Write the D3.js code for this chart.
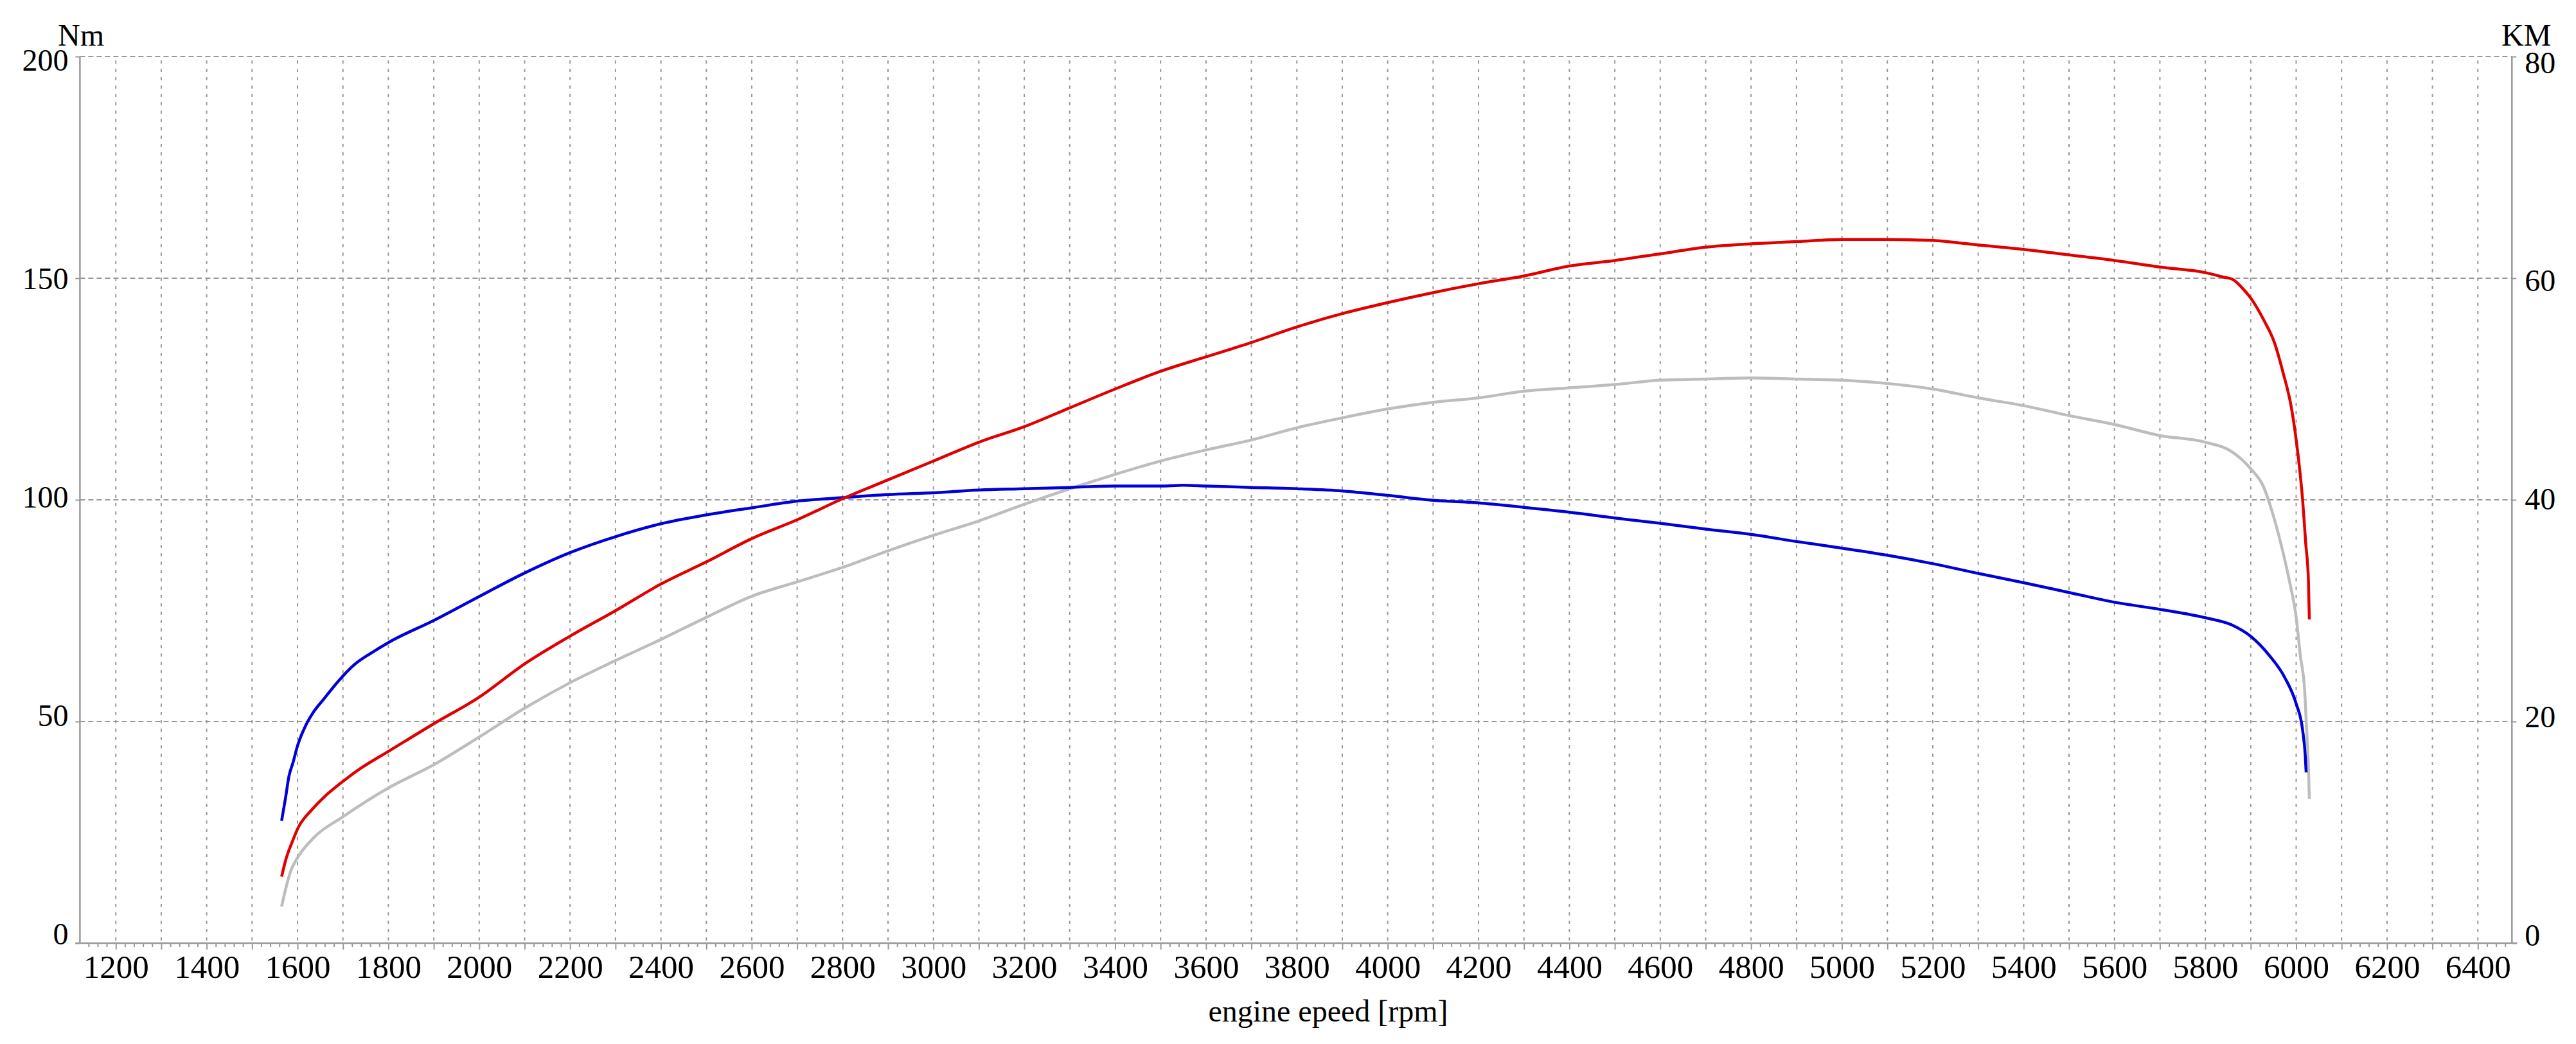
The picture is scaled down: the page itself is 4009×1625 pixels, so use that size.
<!DOCTYPE html>
<html>
<head>
<meta charset="utf-8">
<script src="https://cdn.jsdelivr.net/npm/d3@7"></script>
<style>
  body { margin: 0; background: #fff; }
  svg { display: block; font-family: 'Liberation Serif', 'Times New Roman', serif; }
</style>
</head>
<body>
<div id="chart"></div>
<script>
// blue curve, left axis (Nm)
const torqueRpm = [1565, 1574, 1581, 1590, 1600, 1618, 1633, 1659, 1689, 1726, 1763, 1800, 1900, 2000, 2100, 2200, 2300, 2400, 2500, 2600, 2700, 2800, 2900, 3000, 3100, 3200, 3300, 3400, 3500, 3550, 3600, 3700, 3800, 3900, 4000, 4100, 4200, 4300, 4400, 4500, 4600, 4700, 4800, 4900, 5000, 5100, 5200, 5300, 5400, 5500, 5600, 5700, 5800, 5860, 5900, 5940, 5975, 6000, 6014, 6020, 6022];
const torqueNm = [27.6, 33.0, 37.6, 40.7, 44.5, 49.1, 51.8, 55.2, 59.0, 62.9, 65.5, 67.8, 72.8, 78.2, 83.5, 88.1, 91.7, 94.6, 96.6, 98.2, 99.7, 100.5, 101.2, 101.6, 102.2, 102.5, 102.8, 103.1, 103.1, 103.3, 103.1, 102.8, 102.5, 102.0, 101.0, 99.9, 99.3, 98.3, 97.2, 95.9, 94.7, 93.4, 92.2, 90.6, 89.1, 87.5, 85.6, 83.4, 81.3, 79.1, 76.9, 75.3, 73.4, 71.7, 69.2, 65.0, 59.9, 54.0, 48.2, 42.3, 38.5];

// red curve, right axis (KM)
const powerRpm = [1565, 1574, 1589, 1600, 1633, 1659, 1700, 1740, 1800, 1900, 2000, 2100, 2200, 2300, 2400, 2500, 2600, 2700, 2800, 2900, 3000, 3100, 3200, 3300, 3400, 3500, 3600, 3700, 3800, 3900, 4000, 4100, 4200, 4300, 4400, 4500, 4600, 4700, 4800, 4900, 5000, 5100, 5200, 5300, 5400, 5500, 5600, 5700, 5800, 5840, 5860, 5877, 5900, 5929, 5952, 5971, 5990, 6004, 6014, 6021, 6027, 6029];
const powerKM = [6.0, 7.5, 9.2, 10.3, 12.1, 13.2, 14.6, 15.8, 17.3, 19.8, 22.2, 25.2, 27.7, 30.0, 32.4, 34.4, 36.5, 38.2, 40.1, 41.8, 43.5, 45.2, 46.6, 48.3, 50.0, 51.6, 52.9, 54.2, 55.6, 56.8, 57.8, 58.7, 59.5, 60.2, 61.1, 61.6, 62.2, 62.8, 63.1, 63.3, 63.5, 63.5, 63.4, 63.0, 62.6, 62.1, 61.6, 61.0, 60.5, 60.1, 59.9, 59.3, 58.2, 56.2, 54.2, 51.5, 48.2, 44.1, 40.1, 36.1, 32.7, 29.2];

// gray curve, right axis (KM)
const wheelRpm = [1565, 1574, 1585, 1600, 1633, 1700, 1800, 1900, 2000, 2100, 2200, 2300, 2400, 2500, 2600, 2700, 2800, 2900, 3000, 3100, 3200, 3300, 3400, 3500, 3600, 3700, 3800, 3900, 4000, 4100, 4200, 4300, 4400, 4500, 4600, 4700, 4800, 4900, 5000, 5100, 5200, 5300, 5400, 5500, 5600, 5700, 5800, 5860, 5900, 5929, 5948, 5966, 5985, 6000, 6009, 6019, 6023, 6027, 6029];
const wheelKM = [3.3, 4.9, 6.5, 7.7, 9.4, 11.4, 14.0, 16.1, 18.6, 21.2, 23.5, 25.5, 27.4, 29.4, 31.3, 32.6, 33.9, 35.4, 36.8, 38.1, 39.6, 41.0, 42.3, 43.5, 44.5, 45.4, 46.5, 47.4, 48.2, 48.8, 49.2, 49.8, 50.1, 50.4, 50.8, 50.9, 51.0, 50.9, 50.8, 50.5, 50.0, 49.2, 48.5, 47.6, 46.8, 45.8, 45.2, 44.3, 42.8, 41.1, 38.8, 36.1, 32.7, 29.4, 26.0, 22.6, 19.3, 15.9, 13.0];

const rpmTickLabels = [1200, 1400, 1600, 1800, 2000, 2200, 2400, 2600, 2800, 3000, 3200, 3400, 3600, 3800, 4000, 4200, 4400, 4600, 4800, 5000, 5200, 5400, 5600, 5800, 6000, 6200, 6400];
const nmTicks = [0, 50, 100, 150, 200];
const kmTicks = [0, 20, 40, 60, 80];

function drawChart() {
  const zip = (xs, ys) => xs.map((x, i) => [x, ys[i]]);
  const torque = zip(torqueRpm, torqueNm);
  const power = zip(powerRpm, powerKM);
  const wheel = zip(wheelRpm, wheelKM);

  let dimensions = {
    width: 4009,
    height: 1625,
    margin: { top: 88, right: 99.7, bottom: 157, left: 124.4 },
  };
  dimensions.boundedWidth =
    dimensions.width - dimensions.margin.left - dimensions.margin.right;
  dimensions.boundedHeight =
    dimensions.height - dimensions.margin.top - dimensions.margin.bottom;

  // scales
  const xScale = d3.scaleLinear().domain([1121, 6475]).range([0, dimensions.boundedWidth]);
  const yScale = d3.scaleLinear().domain([0, 200]).range([dimensions.boundedHeight, 0]);
  const y2Scale = d3.scaleLinear().domain([0, 80]).range([dimensions.boundedHeight, 0]);
  // the tick labels sit on a slightly tighter band than the grid
  const labelY = yScale.copy().range([dimensions.boundedHeight - 14, 6]);
  const label2Y = y2Scale.copy().range([dimensions.boundedHeight - 12, 10]);

  const wrapper = d3
    .select('#chart')
    .append('svg')
    .attr('width', dimensions.width)
    .attr('height', dimensions.height);

  wrapper.append('rect').attr('width', dimensions.width).attr('height', dimensions.height).attr('fill', '#fff');

  const bounds = wrapper
    .append('g')
    .attr('transform', `translate(${dimensions.margin.left},${dimensions.margin.top})`);

  const gridColor = '#999';

  // grid
  bounds
    .append('g')
    .selectAll('line')
    .data(d3.range(1200, 6401, 100))
    .join('line')
    .attr('x1', (d) => xScale(d))
    .attr('x2', (d) => xScale(d))
    .attr('y1', 6)
    .attr('y2', dimensions.boundedHeight)
    .attr('stroke', gridColor)
    .attr('stroke-width', 2)
    .attr('stroke-dasharray', '5,8');

  bounds
    .append('g')
    .selectAll('line')
    .data(nmTicks.filter((d) => d > 0))
    .join('line')
    .attr('x1', 0)
    .attr('x2', dimensions.boundedWidth)
    .attr('y1', (d) => yScale(d))
    .attr('y2', (d) => yScale(d))
    .attr('stroke', gridColor)
    .attr('stroke-width', 2)
    .attr('stroke-dasharray', '8,5');

  // curves
  const line = (yS) =>
    d3.line().x((d) => xScale(d[0])).y((d) => yS(d[1])).curve(d3.curveMonotoneX);

  bounds.append('path').datum(wheel).attr('d', line(y2Scale))
    .attr('fill', 'none').attr('stroke', '#bdbdbd').attr('stroke-width', 4.5);
  bounds.append('path').datum(torque).attr('d', line(yScale))
    .attr('fill', 'none').attr('stroke', '#0000d8').attr('stroke-width', 4.5);
  bounds.append('path').datum(power).attr('d', line(y2Scale))
    .attr('fill', 'none').attr('stroke', '#e00000').attr('stroke-width', 4.5);

  // axes
  const axisColor = '#999';

  const minorGenerator = d3
    .axisBottom(xScale)
    .tickValues(d3.range(1140, 6461, 20).filter((d) => d % 100 !== 0))
    .tickSize(6)
    .tickFormat('');
  const minorAxis = bounds.append('g')
    .attr('transform', `translate(0,${dimensions.boundedHeight})`)
    .call(minorGenerator);
  minorAxis.select('.domain').remove();
  minorAxis.selectAll('line').attr('stroke', axisColor).attr('stroke-width', 2);

  const xAxisGenerator = d3
    .axisBottom(xScale)
    .tickValues(d3.range(1200, 6401, 100))
    .tickSize(10)
    .tickPadding(8)
    .tickFormat((d) => (rpmTickLabels.includes(d) ? d : ''));
  const xAxis = bounds.append('g')
    .attr('transform', `translate(0,${dimensions.boundedHeight})`)
    .call(xAxisGenerator);
  xAxis.select('.domain').remove();
  xAxis.selectAll('line').attr('stroke', axisColor).attr('stroke-width', 2);
  xAxis.selectAll('text')
    .attr('fill', '#000')
    .style('font-size', '51px')
    .style('font-family', "'Liberation Serif', serif");

  const yAxisGenerator = d3.axisLeft(yScale).tickValues(nmTicks).tickSize(7).tickPadding(11);
  const yAxis = bounds.append('g').call(yAxisGenerator);
  yAxis.select('.domain').remove();
  yAxis.selectAll('line').attr('stroke', axisColor).attr('stroke-width', 2);
  yAxis.selectAll('text')
    .attr('y', (d) => labelY(d) - yScale(d))
    .attr('fill', '#000')
    .style('font-size', '48px')
    .style('font-family', "'Liberation Serif', serif");

  const y2AxisGenerator = d3.axisRight(y2Scale).tickValues(kmTicks).tickSize(7).tickPadding(13);
  const y2Axis = bounds.append('g')
    .attr('transform', `translate(${dimensions.boundedWidth},0)`)
    .call(y2AxisGenerator);
  y2Axis.select('.domain').remove();
  y2Axis.selectAll('line').attr('stroke', axisColor).attr('stroke-width', 2);
  y2Axis.selectAll('text')
    .attr('y', (d) => label2Y(d) - y2Scale(d))
    .attr('fill', '#000')
    .style('font-size', '48px')
    .style('font-family', "'Liberation Serif', serif");

  // frame lines
  bounds.append('line')
    .attr('x1', 0).attr('x2', 0).attr('y1', 0).attr('y2', dimensions.boundedHeight)
    .attr('stroke', axisColor).attr('stroke-width', 2.5);
  bounds.append('line')
    .attr('x1', dimensions.boundedWidth).attr('x2', dimensions.boundedWidth)
    .attr('y1', 0).attr('y2', dimensions.boundedHeight)
    .attr('stroke', axisColor).attr('stroke-width', 2.5);
  bounds.append('line')
    .attr('x1', -7).attr('x2', dimensions.boundedWidth + 8)
    .attr('y1', dimensions.boundedHeight).attr('y2', dimensions.boundedHeight)
    .attr('stroke', axisColor).attr('stroke-width', 2.5);

  // unit labels and title
  wrapper.append('text')
    .attr('x', 90).attr('y', 71)
    .style('font-size', '48px')
    .text('Nm');

  wrapper.append('text')
    .attr('x', 3893).attr('y', 71)
    .style('font-size', '48px')
    .text('KM');

  wrapper.append('text')
    .attr('x', 2067).attr('y', 1590)
    .attr('text-anchor', 'middle')
    .style('font-size', '48px')
    .text('engine epeed [rpm]');
}

drawChart();
</script>
</body>
</html>
